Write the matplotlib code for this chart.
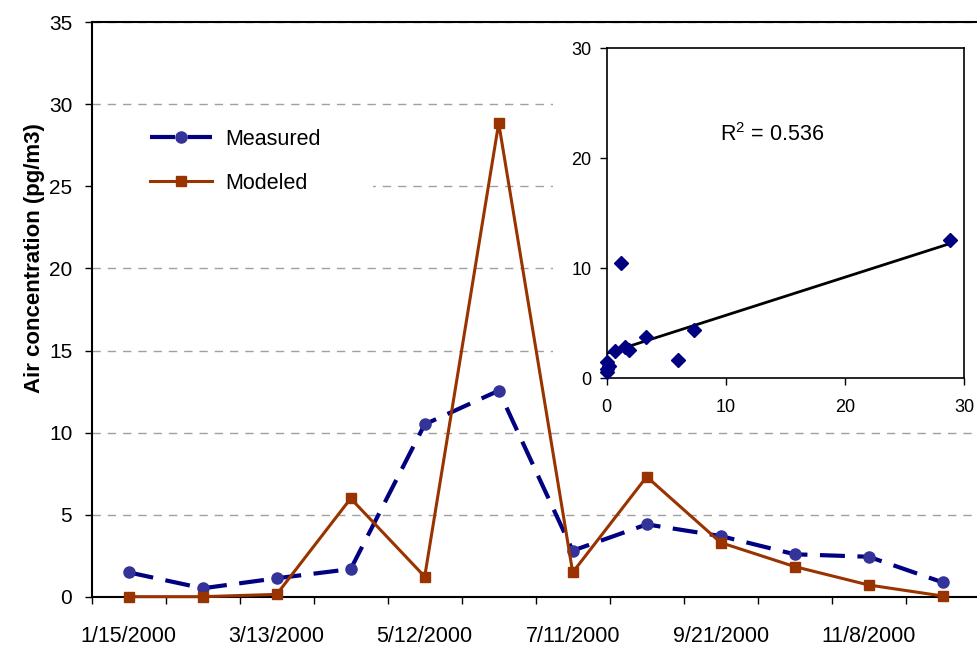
import numpy as np
import matplotlib
matplotlib.use("Agg")
import matplotlib.pyplot as plt
from matplotlib.patches import Rectangle

plt.rcParams['font.family'] = ['Liberation Sans', 'DejaVu Sans']
plt.rcParams['mathtext.fontset'] = 'custom'
plt.rcParams['mathtext.rm'] = 'Liberation Sans'

# sampling dates (only every other one is labelled on the axis)
tick_labels = ['1/15/2000', '', '3/13/2000', '', '5/12/2000', '',
               '7/11/2000', '', '9/21/2000', '', '11/8/2000', '']
measured = [1.50, 0.53, 1.14, 1.70, 10.51, 12.56, 2.82, 4.42, 3.71, 2.60, 2.45, 0.89]
modeled = [0.02, 0.02, 0.16, 6.00, 1.24, 28.85, 1.50, 7.32, 3.31, 1.85, 0.73, 0.06]
r2_text = r'$\mathregular{R^{2}}$ = 0.536'

W, H = 977, 649
fig = plt.figure(figsize=(W / 100, H / 100), dpi=100)
ax = fig.add_axes([91.7 / W, 1 - 597 / H, 888 / W, 575 / H])

x = np.arange(len(measured))
ax.plot(x, measured, color='#000080', lw=3, dashes=(6, 3), marker='o', ms=8,
        mfc='#333399', mec='#333399', label='Measured', zorder=3, clip_on=False)
ax.plot(x, modeled, color='#993300', lw=2.2, marker='s', ms=7.5,
        mfc='#993300', mec='#993300', label='Modeled', zorder=3, clip_on=False)

ax.set_xlim(-0.5, len(x) - 0.5)
ax.set_ylim(0, 35)
ax.set_yticks(range(0, 36, 5))
ax.set_axisbelow(True)
ax.yaxis.grid(True, color='#a0a0a0', linestyle=(0, (6, 5)), lw=1)

ax.set_xticks(np.arange(len(x) + 1) - 0.5)
ax.set_xticklabels([])
ax.set_xticks(x, minor=True)
ax.set_xticklabels(tick_labels, minor=True)
ax.tick_params(axis='x', which='major', length=5, width=1, direction='out')
ax.tick_params(axis='x', which='minor', length=0, pad=21, labelsize=15.5)
ax.tick_params(axis='y', length=5, width=1, direction='out', pad=9, labelsize=15)
for s in ['top', 'left', 'bottom']:
    ax.spines[s].set_linewidth(1.5)

fig.text(35 / W, 1 - 258 / H, 'Air concentration (pg/m3)', rotation=90,
         ha='center', va='center', fontsize=16, fontweight='bold')

# white boxes behind legend and inset (hide the gridlines there)
ax.add_patch(Rectangle((0, 0.682), 0.317, 0.151, transform=ax.transAxes,
                       facecolor='white', edgecolor='none', zorder=1))
ax.add_patch(Rectangle((553 / W, 1 - 420 / H), 1 - 553 / W, (420 - 24) / H,
                       transform=fig.transFigure, facecolor='white',
                       edgecolor='none', zorder=1))

ax.legend(loc='upper left', bbox_to_anchor=(150 / W, 1 - 129 / H),
          bbox_transform=fig.transFigure, frameon=False, fontsize=15.5,
          handlelength=2.9, handletextpad=0.6, labelspacing=1.05,
          borderpad=0, borderaxespad=0, numpoints=1)

# inset: measured vs modeled
axin = fig.add_axes([606.7 / W, 1 - 378.3 / H, (964 - 606.7) / W, (378.3 - 48.3) / H])
axin.plot(modeled, measured, 'D', color='#000080', ms=7.2, clip_on=False, zorder=3)
coef = np.polyfit(modeled, measured, 1)
xs = np.array([0, max(modeled)])
axin.plot(xs, np.polyval(coef, xs), color='black', lw=2)
axin.text(9.5, 22.2, r2_text, fontsize=15.5, va='center', ha='left')
axin.set_xlim(0, 30)
axin.set_ylim(0, 30)
axin.set_xticks([0, 10, 20, 30])
axin.set_yticks([0, 10, 20, 30])
axin.tick_params(length=5, width=1, direction='out', labelsize=13, pad=6)
axin.tick_params(axis='x', pad=10)
for s in axin.spines.values():
    s.set_linewidth(1.2)

fig.savefig('out.png', dpi=100)
